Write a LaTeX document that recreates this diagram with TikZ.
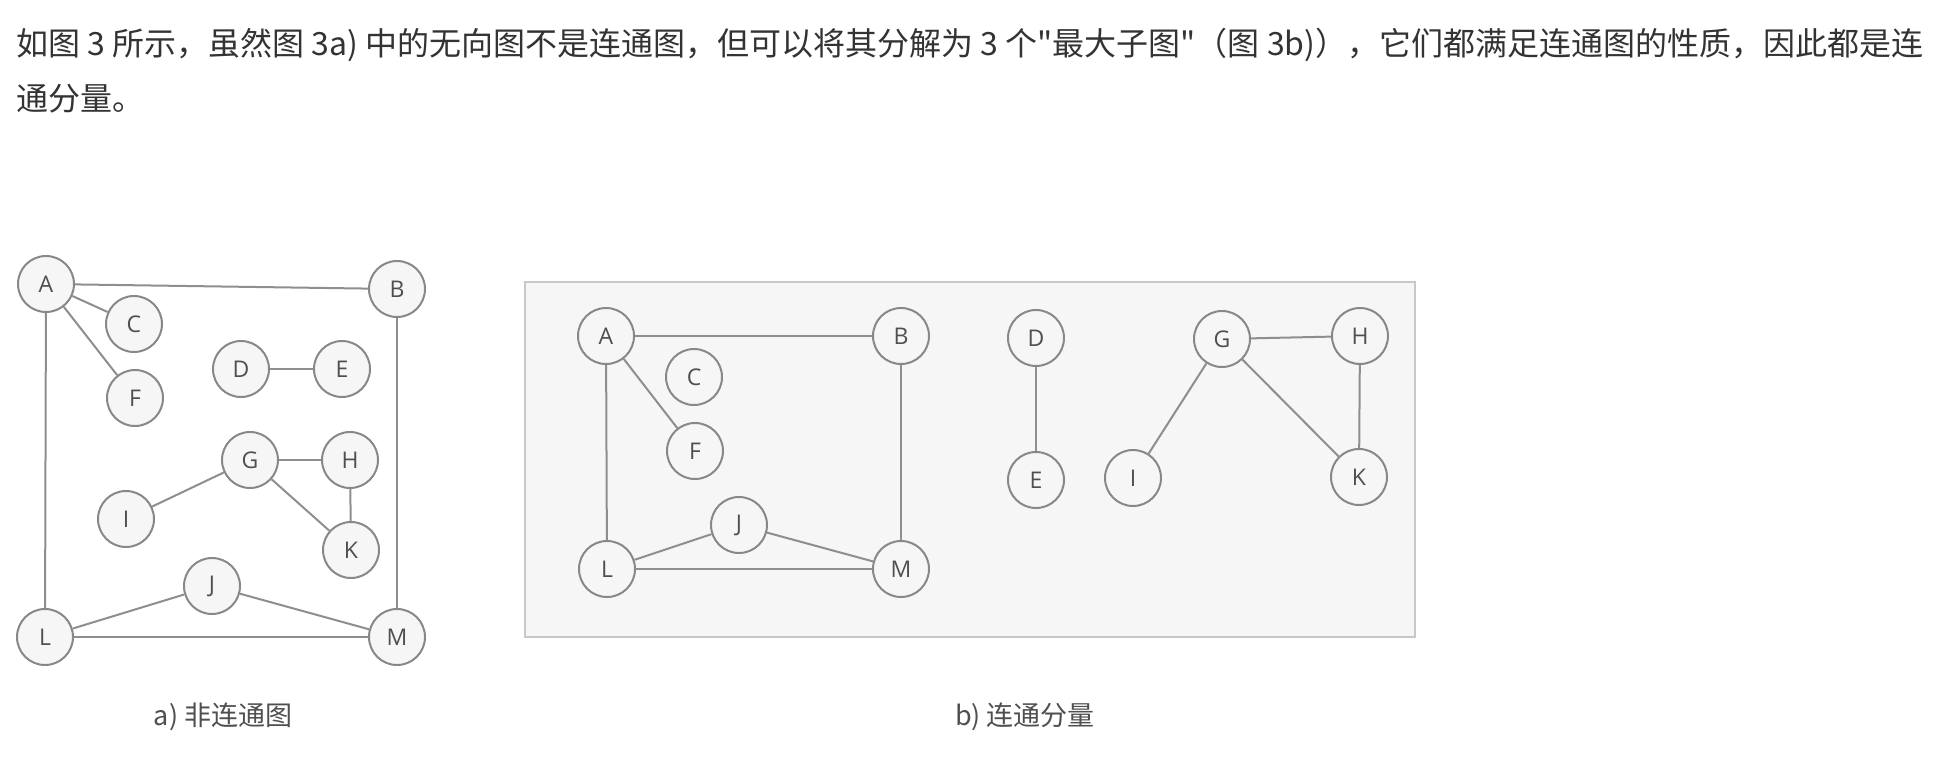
\documentclass[tikz,border=0pt]{standalone}
\usepackage{fontspec}
\newfontfamily\cjkfont{Noto Sans CJK SC}
\newfontfamily\letterfont{Open Sans}
\definecolor{txtgray}{HTML}{333333}
\definecolor{capgray}{HTML}{4F4F4F}
\definecolor{rimgray}{HTML}{888888}
\definecolor{edgegray}{HTML}{8E8E8E}
\definecolor{boxfill}{HTML}{F6F6F6}
\definecolor{boxrim}{HTML}{C8C8C8}
\begin{document}
\begin{tikzpicture}[x=0.5pt, y=-0.5pt,
  vertex/.style={circle, draw=rimgray, fill=boxfill, line width=1pt, minimum size=28pt, inner sep=0pt, font=\letterfont\fontsize{11.5}{12}\selectfont, text=capgray},
  edge/.style={draw=edgegray, line width=1pt},
  caption/.style={font=\cjkfont\fontsize{13.5}{15}\selectfont, text=capgray},
  prose/.style={anchor=base west, inner sep=0pt, text=txtgray, font=\cjkfont\fontsize{16}{18}\selectfont}]
\useasboundingbox (0,0) rectangle (1938,760);
\node[prose] (line1) at (16,55) {如图 3 所示，虽然图 3a) 中的无向图不是连通图，但可以将其分解为 3 个"最大子图"（图 3b)），它们都满足连通图的性质，因此都是连};
\node[prose] (line2) at (16,110) {通分量。};
\node[vertex] (la) at (46,284) {A};
\node[vertex] (lb) at (397,289) {B};
\node[vertex] (lc) at (134,324) {C};
\node[vertex] (lf) at (135,398) {F};
\node[vertex] (ld) at (241,369) {D};
\node[vertex] (le) at (342,369) {E};
\node[vertex] (lg) at (250,460) {G};
\node[vertex] (lh) at (350,460) {H};
\node[vertex] (li) at (126,519) {I};
\node[vertex] (lk) at (351,550) {K};
\node[vertex] (lj) at (212,586) {J};
\node[vertex] (ll) at (45,637) {L};
\node[vertex] (lm) at (397,637) {M};
\draw[edge] (la) -- (lb);
\draw[edge] (la) -- (lc);
\draw[edge] (la) -- (lf);
\draw[edge] (la) -- (ll);
\draw[edge] (lb) -- (lm);
\draw[edge] (ld) -- (le);
\draw[edge] (lg) -- (lh);
\draw[edge] (lg) -- (li);
\draw[edge] (lg) -- (lk);
\draw[edge] (lh) -- (lk);
\draw[edge] (ll) -- (lj);
\draw[edge] (lj) -- (lm);
\draw[edge] (ll) -- (lm);
\node[caption] (capa) at (223,717) {a) 非连通图};
\draw[draw=boxrim, fill=boxfill, line width=1pt] (525,282) rectangle (1415,637);
\node[vertex] (ra) at (606,336) {A};
\node[vertex] (rb) at (901,336) {B};
\node[vertex] (rc) at (694,377) {C};
\node[vertex] (rf) at (695,451) {F};
\node[vertex] (rj) at (739,525) {J};
\node[vertex] (rl) at (607,569) {L};
\node[vertex] (rm) at (901,569) {M};
\node[vertex] (rd) at (1036,338) {D};
\node[vertex] (re) at (1036,480) {E};
\node[vertex] (rg) at (1222,339) {G};
\node[vertex] (rh) at (1360,336) {H};
\node[vertex] (ri) at (1133,478) {I};
\node[vertex] (rk) at (1359,477) {K};
\draw[edge] (ra) -- (rb);
\draw[edge] (ra) -- (rf);
\draw[edge] (ra) -- (rl);
\draw[edge] (rb) -- (rm);
\draw[edge] (rl) -- (rj);
\draw[edge] (rj) -- (rm);
\draw[edge] (rl) -- (rm);
\draw[edge] (rd) -- (re);
\draw[edge] (rg) -- (rh);
\draw[edge] (rg) -- (ri);
\draw[edge] (rg) -- (rk);
\draw[edge] (rh) -- (rk);
\node[caption] (capb) at (1025,717) {b) 连通分量};
\end{tikzpicture}
\end{document}
